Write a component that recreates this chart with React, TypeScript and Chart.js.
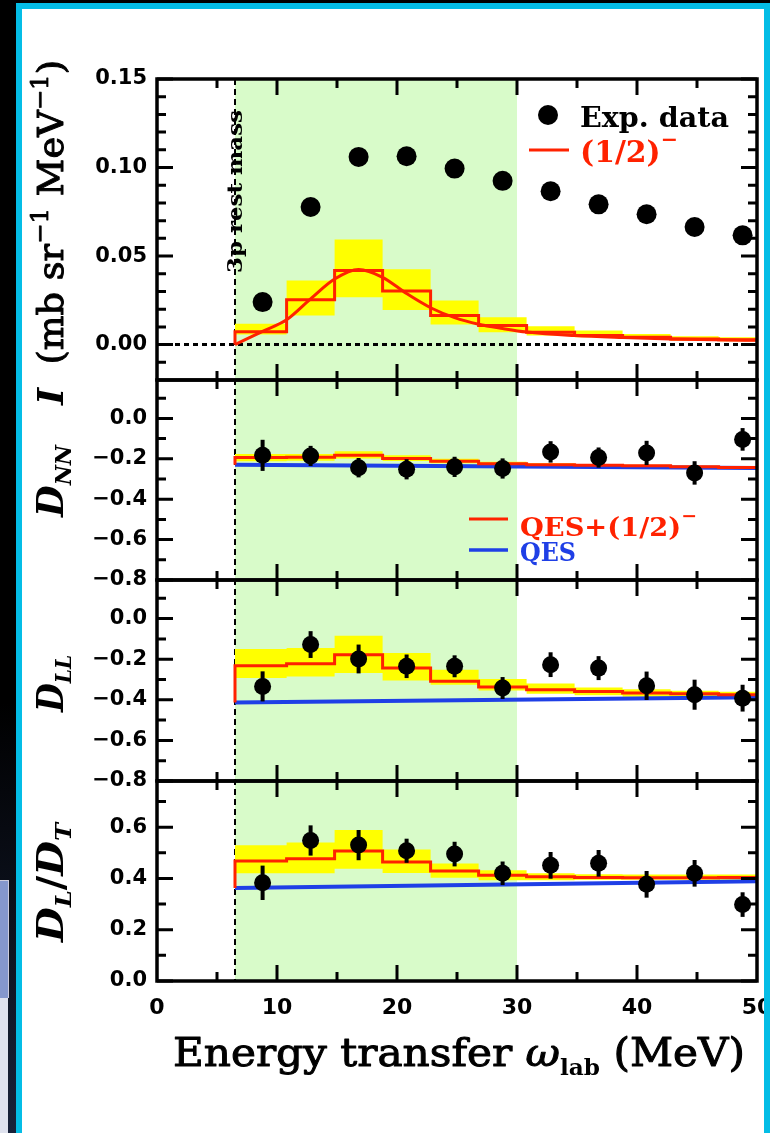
import React, { useEffect, useRef } from 'react';
import { Chart, registerables } from 'chart.js';
Chart.register(...registerables);

// ---------- data ----------
const BIN_EDGES = [6.5, 10.8, 14.8, 18.8, 22.8, 26.8, 30.8, 34.8, 38.8, 42.8, 46.8, 50];
const DATA_X = [8.8, 12.8, 16.8, 20.8, 24.8, 28.8, 32.8, 36.8, 40.8, 44.8, 48.8];
const REST_MASS = 6.5;
const SHADE_RANGE = [6.5, 30];

// Panel 1: I (mb sr^-1 MeV^-1)
const I_EXP = [0.024, 0.0777, 0.106, 0.1064, 0.0994, 0.0925, 0.0866, 0.0792, 0.0736, 0.0664, 0.0617];
const I_STEP = [0.0073, 0.0253, 0.0419, 0.0302, 0.0164, 0.0108, 0.007, 0.0051, 0.0042, 0.0032, 0.0027];
const I_BAND_HI = [0.0117, 0.0362, 0.0594, 0.0425, 0.0249, 0.0155, 0.0104, 0.0079, 0.006, 0.0047, 0.0041];
const I_BAND_LO = [0.0057, 0.0164, 0.0268, 0.0196, 0.0113, 0.007, 0.0051, 0.0041, 0.0032, 0.0023, 0.0019];
const I_CURVE_X = [6.5, 8.8, 10.8, 12.8, 14.8, 16.8, 18.8, 20.8, 22.8, 24.8, 26.8, 28.8, 30.8, 34.8, 38.8, 42.8, 46.8, 50];
const I_CURVE_Y = [0, 0.0075, 0.0140, 0.0258, 0.0370, 0.0424, 0.0380, 0.0288, 0.0208, 0.0152, 0.0115, 0.0091, 0.0071, 0.0051, 0.0040, 0.0032, 0.0027, 0.0024];

// Panel 2: D_NN
const NN_EXP = [-0.183, -0.186, -0.244, -0.252, -0.24, -0.248, -0.166, -0.194, -0.171, -0.27, -0.104];
const NN_ERR = [0.077, 0.05, 0.048, 0.05, 0.05, 0.05, 0.053, 0.05, 0.06, 0.058, 0.056];
const NN_STEP = [-0.194, -0.192, -0.183, -0.199, -0.212, -0.224, -0.229, -0.232, -0.235, -0.24, -0.243];
const NN_BAND_HI = [-0.176, -0.176, -0.163, -0.183, -0.2, -0.215, -0.222, -0.226, -0.23, -0.235, -0.238];
const NN_BAND_LO = [-0.212, -0.21, -0.199, -0.211, -0.222, -0.232, -0.236, -0.238, -0.24, -0.245, -0.248];
const NN_QES_X = [6.5, 50];
const NN_QES_Y = [-0.229, -0.246];

// Panel 3: D_LL
const LL_EXP = [-0.334, -0.128, -0.199, -0.235, -0.235, -0.342, -0.227, -0.244, -0.331, -0.375, -0.392];
const LL_ERR = [0.074, 0.066, 0.071, 0.058, 0.054, 0.054, 0.061, 0.059, 0.07, 0.074, 0.066];
const LL_STEP = [-0.232, -0.222, -0.178, -0.244, -0.309, -0.337, -0.351, -0.359, -0.367, -0.37, -0.375];
const LL_BAND_HI = [-0.15, -0.145, -0.084, -0.17, -0.252, -0.298, -0.32, -0.34, -0.348, -0.355, -0.36];
const LL_BAND_LO = [-0.293, -0.285, -0.268, -0.305, -0.326, -0.354, -0.37, -0.378, -0.385, -0.388, -0.392];
const LL_QES_X = [6.5, 50];
const LL_QES_Y = [-0.413, -0.388];

// Panel 4: D_L / D_T
const LT_EXP = [0.383, 0.548, 0.53, 0.508, 0.495, 0.42, 0.451, 0.459, 0.377, 0.42, 0.298];
const LT_ERR = [0.067, 0.059, 0.059, 0.047, 0.048, 0.046, 0.052, 0.052, 0.052, 0.052, 0.048];
const LT_STEP = [0.468, 0.477, 0.507, 0.464, 0.429, 0.412, 0.407, 0.404, 0.403, 0.403, 0.404];
const LT_BAND_HI = [0.529, 0.54, 0.589, 0.513, 0.458, 0.432, 0.42, 0.416, 0.415, 0.415, 0.415];
const LT_BAND_LO = [0.42, 0.42, 0.438, 0.421, 0.403, 0.393, 0.393, 0.395, 0.395, 0.395, 0.395];
const LT_QES_X = [6.5, 50];
const LT_QES_Y = [0.363, 0.389];

// ticks
const X_TICKS = [0, 10, 20, 30, 40, 50];
const X_MINOR = [5, 15, 25, 35, 45];
const X_MAJOR_INNER = [10, 20, 30, 40];
const I_TICKS = [0, 0.05, 0.1, 0.15];
const I_MINOR = [-0.01, 0.01, 0.02, 0.03, 0.04, 0.06, 0.07, 0.08, 0.09, 0.11, 0.12, 0.13, 0.14];
const D_TICKS = [-0.8, -0.6, -0.4, -0.2, 0];
const D_MINOR = [-0.7, -0.5, -0.3, -0.1, 0.1];
const R_TICKS = [0, 0.2, 0.4, 0.6];
const R_MINOR = [0.1, 0.3, 0.5, 0.7];

const RED = '#ff2200';
const BLUE = '#1f3fe6';
const YELLOW = '#ffff00';
const GREEN = '#d8fbc9';

const SERIF = '"DejaVu Serif"';
const SANS = '"DejaVu Sans"';

// ---------- helpers ----------
function stepPts(values: number[], start?: number) {
  const pts: any[] = [];
  if (start !== undefined) pts.push({ x: BIN_EDGES[0], y: start });
  values.forEach((v, i) => pts.push({ x: BIN_EDGES[i], y: v }));
  pts.push({ x: BIN_EDGES[BIN_EDGES.length - 1], y: values[values.length - 1] });
  return pts;
}
function xy(xs: number[], ys: number[]) {
  return xs.map((x, i) => ({ x, y: ys[i] }));
}
function fmt(v: number, d: number) {
  const n = Math.abs(v) < 1e-9 ? 0 : v;
  return n.toFixed(d).replace('-', '\u2212');
}

function panelDatasets(axis: string, exp: number[], err: number[] | null, step: number[], hi: number[], lo: number[], qesX: number[] | null, qesY: number[] | null, radius: number) {
  const ds: any[] = [];
  ds.push({
    data: xy(DATA_X, exp), yAxisID: axis, showLine: false, pointRadius: radius, pointHoverRadius: radius,
    pointBackgroundColor: '#000', pointBorderWidth: 0, errors: err,
  });
  ds.push({
    data: stepPts(step, qesY ? qesY[0] : 0), yAxisID: axis, stepped: true, borderColor: RED, borderWidth: 3,
    pointRadius: 0, fill: false,
  });
  if (qesX && qesY) {
    ds.push({ data: xy(qesX, qesY), yAxisID: axis, borderColor: BLUE, borderWidth: 4, pointRadius: 0, fill: false });
  }
  ds.push({
    data: stepPts(hi), yAxisID: axis, stepped: true, borderColor: 'rgba(0,0,0,0)', borderWidth: 0,
    pointRadius: 0, fill: '+1', backgroundColor: YELLOW,
  });
  ds.push({
    data: stepPts(lo), yAxisID: axis, stepped: true, borderColor: 'rgba(0,0,0,0)', borderWidth: 0,
    pointRadius: 0, fill: false,
  });
  return ds;
}

type Seg = { t: string; font: string; dy?: number; color?: string; thick?: number };
function drawRich(ctx: CanvasRenderingContext2D, segs: Seg[], x: number, y: number, angle: number, len: number, color = '#000') {
  let w = 0;
  for (const s of segs) { ctx.font = s.font; w += ctx.measureText(s.t).width; }
  ctx.save();
  ctx.translate(x, y);
  ctx.rotate(angle);
  ctx.scale(len / w, 1);
  ctx.textAlign = 'left';
  ctx.textBaseline = 'alphabetic';
  ctx.setLineDash([]);
  let cx = 0;
  for (const s of segs) {
    ctx.font = s.font;
    ctx.fillStyle = s.color || color;
    ctx.fillText(s.t, cx, s.dy || 0);
    if (s.thick) {
      ctx.strokeStyle = s.color || color;
      ctx.lineWidth = s.thick;
      ctx.lineJoin = 'round';
      ctx.strokeText(s.t, cx, s.dy || 0);
    }
    cx += ctx.measureText(s.t).width;
  }
  ctx.restore();
}

const PANELS = [
  { id: 'yI', major: I_TICKS, minor: I_MINOR },
  { id: 'yNN', major: D_TICKS, minor: D_MINOR },
  { id: 'yLL', major: D_TICKS, minor: D_MINOR },
  { id: 'yLT', major: R_TICKS, minor: R_MINOR },
];

function drawFramesAndTicks(chart: any) {
  const ctx = chart.ctx as CanvasRenderingContext2D;
  const a = chart.chartArea;
  const x = chart.scales.x;
  ctx.save();
  ctx.setLineDash([]);
  ctx.strokeStyle = '#000';
  ctx.lineCap = 'butt';
  for (const p of PANELS) {
    const s = chart.scales[p.id];
    const segs: number[][] = [];
    p.major.forEach((v) => {
      const py = s.getPixelForValue(v);
      segs.push([a.left, py, a.left + 16, py], [a.right, py, a.right - 16, py]);
    });
    p.minor.forEach((v) => {
      const py = s.getPixelForValue(v);
      segs.push([a.left, py, a.left + 9, py], [a.right, py, a.right - 9, py]);
    });
    X_MAJOR_INNER.forEach((v) => {
      const px = x.getPixelForValue(v);
      segs.push([px, s.top, px, s.top + 16], [px, s.bottom, px, s.bottom - 16]);
    });
    X_MINOR.forEach((v) => {
      const px = x.getPixelForValue(v);
      segs.push([px, s.top, px, s.top + 9], [px, s.bottom, px, s.bottom - 9]);
    });
    ctx.lineWidth = 3;
    ctx.beginPath();
    for (const g of segs) { ctx.moveTo(g[0], g[1]); ctx.lineTo(g[2], g[3]); }
    ctx.stroke();
    ctx.lineWidth = 3.5;
    ctx.strokeRect(a.left, s.top, a.right - a.left, s.bottom - s.top);
  }
  ctx.restore();
}

const panelsPlugin = {
  id: 'panels',
  beforeDatasetsDraw(chart: any) {
    const { ctx, chartArea: a, scales } = chart;
    const x = scales.x;
    ctx.save();
    const x0 = x.getPixelForValue(SHADE_RANGE[0]);
    const x1 = x.getPixelForValue(SHADE_RANGE[1]);
    ctx.fillStyle = GREEN;
    ctx.fillRect(x0, a.top, x1 - x0, a.bottom - a.top);
    const y0 = scales.yI.getPixelForValue(0);
    ctx.strokeStyle = '#000';
    ctx.lineWidth = 3;
    ctx.setLineDash([5, 4]);
    ctx.beginPath();
    ctx.moveTo(x.getPixelForValue(0), y0);
    ctx.lineTo(x.getPixelForValue(50), y0);
    ctx.stroke();
    const xr = x.getPixelForValue(REST_MASS);
    ctx.lineWidth = 2;
    ctx.setLineDash([6, 4]);
    ctx.beginPath();
    ctx.moveTo(xr, a.top);
    ctx.lineTo(xr, a.bottom);
    ctx.stroke();
    ctx.restore();
  },
  afterDatasetsDraw(chart: any) {
    const { ctx, scales } = chart;
    ctx.save();
    ctx.setLineDash([]);
    chart.data.datasets.forEach((ds: any, i: number) => {
      if (!ds.errors) return;
      const meta = chart.getDatasetMeta(i);
      const ys = scales[ds.yAxisID];
      ctx.strokeStyle = '#000';
      ctx.lineWidth = 4;
      ds.data.forEach((p: any, j: number) => {
        const px = meta.data[j].x;
        ctx.beginPath();
        ctx.moveTo(px, ys.getPixelForValue(p.y - ds.errors[j]));
        ctx.lineTo(px, ys.getPixelForValue(p.y + ds.errors[j]));
        ctx.stroke();
      });
    });
    ctx.restore();
  },
  afterDraw(chart: any) {
    const ctx = chart.ctx;
    drawFramesAndTicks(chart);
    ctx.save();
    const UP = -Math.PI / 2;
    drawRich(ctx, [{ t: '3p rest mass', font: `bold 21px ${SERIF}` }], 242, 273, UP, 163);
    drawRich(ctx, [
      { t: 'I', font: `italic bold 36px ${SERIF}` },
      { t: '  (mb sr', font: `36px ${SERIF}`, thick: 1 },
      { t: '\u22121', font: `24px ${SERIF}`, dy: -15, thick: 0.8 },
      { t: ' MeV', font: `36px ${SERIF}`, thick: 1 },
      { t: '\u22121', font: `24px ${SERIF}`, dy: -15, thick: 0.8 },
      { t: ')', font: `36px ${SERIF}`, thick: 1 },
    ], 63, 405, UP, 345);
    drawRich(ctx, [
      { t: 'D', font: `italic bold 38px ${SERIF}` },
      { t: 'NN', font: `italic bold 23px ${SERIF}`, dy: 8 },
    ], 63, 517, UP, 72);
    drawRich(ctx, [
      { t: 'D', font: `italic bold 38px ${SERIF}` },
      { t: 'LL', font: `italic bold 23px ${SERIF}`, dy: 8 },
    ], 63, 712, UP, 57);
    drawRich(ctx, [
      { t: 'D', font: `italic bold 38px ${SERIF}` },
      { t: 'L', font: `italic bold 23px ${SERIF}`, dy: 8 },
      { t: '/', font: `bold 38px ${SERIF}` },
      { t: 'D', font: `italic bold 38px ${SERIF}` },
      { t: 'T', font: `italic bold 23px ${SERIF}`, dy: 8 },
    ], 63, 942, UP, 119);
    drawRich(ctx, [
      { t: 'Energy transfer ', font: `40px ${SERIF}`, thick: 1 },
      { t: '\u03c9', font: `italic 40px ${SERIF}`, thick: 1 },
      { t: 'lab', font: `bold 22px ${SERIF}`, dy: 9 },
      { t: ' (MeV)', font: `40px ${SERIF}`, thick: 1 },
    ], 173, 1066, 0, 572);
    ctx.fillStyle = '#000';
    ctx.beginPath();
    ctx.arc(548, 115, 10, 0, Math.PI * 2);
    ctx.fill();
    drawRich(ctx, [{ t: 'Exp. data', font: `bold 27px ${SERIF}` }], 580, 127, 0, 149);
    ctx.setLineDash([]);
    ctx.strokeStyle = RED;
    ctx.lineWidth = 3;
    ctx.beginPath(); ctx.moveTo(529, 150); ctx.lineTo(569, 150); ctx.stroke();
    drawRich(ctx, [
      { t: '(1/2)', font: `bold 29px ${SERIF}` },
      { t: '\u2212', font: `bold 20px ${SERIF}`, dy: -16 },
    ], 580, 162, 0, 98, RED);
    ctx.strokeStyle = RED;
    ctx.lineWidth = 3;
    ctx.beginPath(); ctx.moveTo(469, 519); ctx.lineTo(508, 519); ctx.stroke();
    drawRich(ctx, [
      { t: 'QES+(1/2)', font: `bold 26px ${SERIF}` },
      { t: '\u2212', font: `bold 18px ${SERIF}`, dy: -14 },
    ], 520, 536, 0, 177, RED);
    ctx.strokeStyle = BLUE;
    ctx.lineWidth = 3.5;
    ctx.beginPath(); ctx.moveTo(469, 550); ctx.lineTo(508, 550); ctx.stroke();
    drawRich(ctx, [{ t: 'QES', font: `bold 26px ${SERIF}` }], 520, 561, 0, 56, BLUE);
    ctx.restore();
  },
};

function yAxis(weight: number, stackWeight: number, min: number, max: number, ticks: number[], dec: number) {
  return {
    type: 'linear', position: 'left', stack: 'panels', stackWeight, weight, min, max,
    grid: { display: false, drawTicks: false }, border: { display: false },
    ticks: {
      color: '#000', padding: 10, font: { family: SANS, weight: 'bold', size: 21 },
      callback: (v: number) => fmt(v, dec), autoSkip: false,
    },
    afterBuildTicks: (s: any) => { s.ticks = ticks.map((v) => ({ value: v })); },
    afterFit: (s: any) => { s.width = 157; s.paddingTop = 0; s.paddingBottom = 0; },
  };
}

export default function App() {
  const ref = useRef<HTMLCanvasElement | null>(null);
  useEffect(() => {
    if (!ref.current) return;
    const datasets = [
      ...panelDatasets('yI', I_EXP, null, I_STEP, I_BAND_HI, I_BAND_LO, null, null, 10),
      ...panelDatasets('yNN', NN_EXP, NN_ERR, NN_STEP, NN_BAND_HI, NN_BAND_LO, NN_QES_X, NN_QES_Y, 8.5),
      ...panelDatasets('yLL', LL_EXP, LL_ERR, LL_STEP, LL_BAND_HI, LL_BAND_LO, LL_QES_X, LL_QES_Y, 8.5),
      ...panelDatasets('yLT', LT_EXP, LT_ERR, LT_STEP, LT_BAND_HI, LT_BAND_LO, LT_QES_X, LT_QES_Y, 8.5),
    ];
    datasets.splice(2, 0, {
      data: xy(I_CURVE_X, I_CURVE_Y), yAxisID: 'yI', borderColor: RED, borderWidth: 3, pointRadius: 0,
      cubicInterpolationMode: 'monotone', fill: false,
    });
    const chart = new Chart(ref.current, {
      type: 'line',
      data: { datasets },
      options: {
        responsive: false,
        animation: false,
        devicePixelRatio: 1,
        layout: { padding: { left: 0, right: 13, top: 79, bottom: 107 } },
        plugins: { legend: { display: false }, tooltip: { enabled: false } },
        scales: {
          x: {
            type: 'linear', position: 'bottom', min: 0, max: 50,
            grid: { display: false, drawTicks: false }, border: { display: false },
            ticks: {
              color: '#000', padding: 14, maxRotation: 0, autoSkip: false,
              font: { family: SANS, weight: 'bold', size: 22 },
            },
            afterBuildTicks: (s: any) => { s.ticks = X_TICKS.map((v) => ({ value: v })); },
            afterFit: (s: any) => { s.height = 45; s.paddingLeft = 0; s.paddingRight = 0; },
          },
          yI: yAxis(4, 301, -0.02, 0.15, I_TICKS, 2),
          yNN: yAxis(3, 200, -0.8, 0.19, D_TICKS, 1),
          yLL: yAxis(2, 201, -0.8, 0.19, D_TICKS, 1),
          yLT: yAxis(1, 200, 0, 0.78, R_TICKS, 1),
        } as any,
      },
      plugins: [panelsPlugin],
    } as any);
    return () => chart.destroy();
  }, []);

  return (
    <div style={{ position: 'fixed', left: 0, top: 0, width: 770, height: 1133, overflow: 'hidden',
      background: 'linear-gradient(#000 0%, #000 62%, #18223a 100%)' }}>
      <div style={{ position: 'absolute', left: 0, top: 880, width: 8, height: 117, background: '#8597cd', borderTop: '1px solid #ccd', borderRight: '1px solid #ccd' }} />
      <div style={{ position: 'absolute', left: 0, top: 998, width: 8, height: 135, background: '#dfe2ee' }} />
      <div style={{ position: 'absolute', left: 16, top: 3, width: 754, height: 1140, background: '#fff' }} />
      <canvas ref={ref} width={770} height={1133} style={{ position: 'absolute', left: 0, top: 0, width: 770, height: 1133 }} />
      <div style={{ position: 'absolute', left: 16, top: 3, width: 754, height: 1140, border: '6px solid #04bde6', boxSizing: 'border-box', pointerEvents: 'none' }} />
    </div>
  );
}
